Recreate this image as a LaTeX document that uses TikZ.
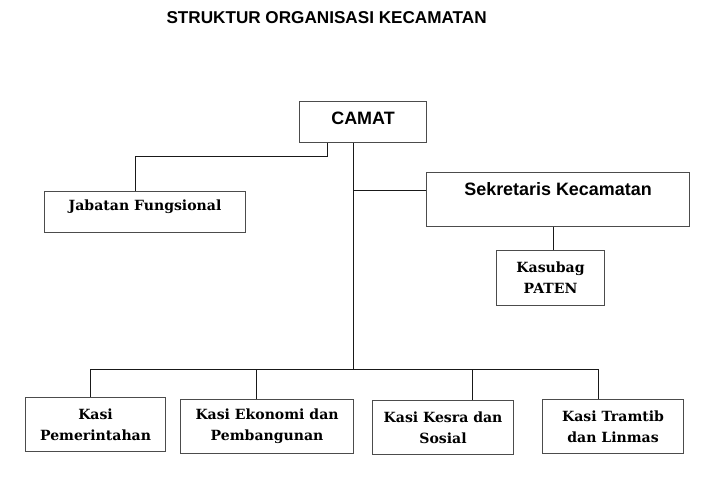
\documentclass[tikz,border=0pt]{standalone}
\usepackage{fontspec}
\setmainfont{Liberation Sans}
\newfontfamily\serifb{DejaVu Serif}
\begin{document}
\begin{tikzpicture}[x=1bp,y=-1bp,
  box/.style={draw=black!70, line width=1.1bp, inner sep=0pt, anchor=north west},
  conn/.style={draw=black!90, line width=1bp},
  sb/.style={font=\serifb\bfseries\fontsize{14.1}{21}\selectfont, align=center},
  sansb/.style={font=\bfseries\fontsize{18}{20}\selectfont}]
\useasboundingbox[fill=white] (0,0) rectangle (717,477);

\node[font=\bfseries\fontsize{17.2}{20}\selectfont, anchor=base west] (title) at (163,24) {STRUKTUR ORGANISASI KECAMATAN};

% boxes
\node[box, minimum width=127bp, minimum height=41bp,
      label={[sansb, anchor=center, yshift=-17.5bp]north:CAMAT}] (camat) at (299,101) {};
\node[box, minimum width=201bp, minimum height=41bp,
      label={[sb, anchor=center, yshift=-15.5bp]north:Jabatan Fungsional}] (jf) at (44,191) {};
\node[box, minimum width=263bp, minimum height=54bp,
      label={[sansb, anchor=center, yshift=-17bp]north:Sekretaris Kecamatan}] (sek) at (426,172) {};
\node[box, minimum width=108bp, minimum height=55bp, sb] (kas) at (496,250) {Kasubag\\PATEN};
\node[box, minimum width=140bp, minimum height=54bp, sb] (k1) at (25,397) {Kasi\\Pemerintahan};
\node[box, minimum width=173bp, minimum height=54bp, sb] (k2) at (180,399) {Kasi Ekonomi dan\\Pembangunan};
\node[box, minimum width=141bp, minimum height=54bp, sb] (k3) at (372,400) {Kasi Kesra dan\\Sosial};
\node[box, minimum width=141bp, minimum height=54bp, sb] (k4) at (542,399) {Kasi Tramtib\\dan Linmas};

% attachment coordinates
\coordinate (trunk) at (353,0);
\coordinate (jfx) at (327,157);
\coordinate (jfdrop) at (135,0);
\coordinate (sekbr) at (353,191);
\coordinate (kasx) at (553,0);
\coordinate (bus) at (0,369);
\coordinate (d1) at (90,0);
\coordinate (d2) at (256,0);
\coordinate (d3) at (472,0);
\coordinate (d4) at (598,0);

% connectors
\draw[conn] (camat.south -| jfx) -- (jfx) -| (jf.north -| jfdrop);
\draw[conn] (camat.south -| trunk) -- (trunk |- bus);
\draw[conn] (sekbr) -- (sekbr -| sek.west);
\draw[conn] (sek.south -| kasx) -- (kas.north -| kasx);
\draw[conn] (d1 |- bus) -- (d4 |- bus);
\draw[conn] (d1 |- bus) -- (k1.north -| d1);
\draw[conn] (d2 |- bus) -- (k2.north -| d2);
\draw[conn] (d3 |- bus) -- (k3.north -| d3);
\draw[conn] (d4 |- bus) -- (k4.north -| d4);
\end{tikzpicture}
\end{document}
